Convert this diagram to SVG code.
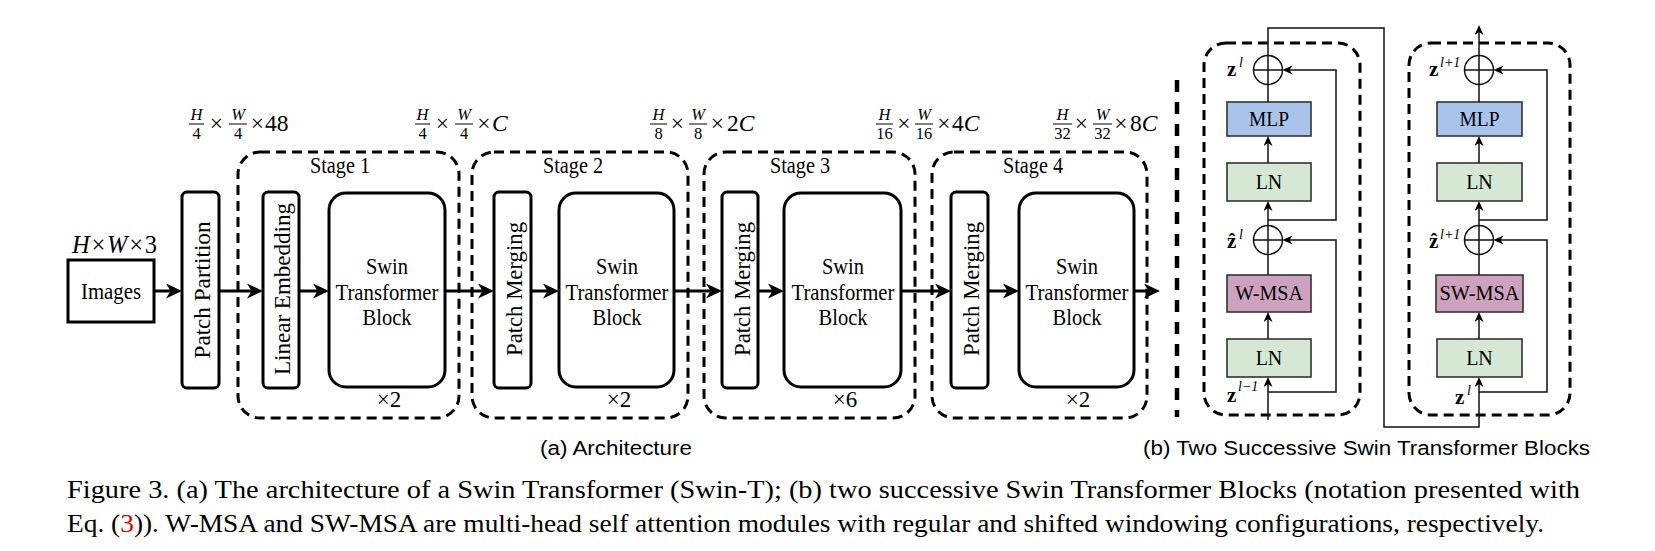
<svg xmlns="http://www.w3.org/2000/svg" width="1655" height="551" viewBox="0 0 1655 551">
<defs>
<style>
.t{font-family:"Liberation Serif","Times New Roman",Times,serif;fill:#000}
.s{font-family:"Liberation Sans",Arial,sans-serif;fill:#000}
.i{font-style:italic}
.box{fill:#fff;stroke:#000;stroke-width:3}
.stage{fill:none;stroke:#000;stroke-width:3;stroke-dasharray:10 6}
.flow{fill:none;stroke:#000;stroke-width:3}
.thin{fill:none;stroke:#111;stroke-width:1.5}
.sbox{stroke:#333;stroke-width:1.6}
.mlp{fill:#A9C4EB}
.lnf{fill:#D5E8D4}
.msa{fill:#CDA2BE}
.bar{stroke:#000;stroke-width:1}
.num{font-size:16.5px;text-anchor:middle}
.mn{font-size:23.5px}
.mid{text-anchor:middle}
.lbl{font-size:23px;text-anchor:middle}
.vt{font-size:23.5px;text-anchor:middle}
.bl{font-size:20px;text-anchor:middle}
.zb{font-size:21px;font-weight:bold}
.sup{font-size:14px;font-style:italic}
</style>
<marker id="big" markerUnits="userSpaceOnUse" markerWidth="18" markerHeight="16" refX="8" refY="7.5" orient="auto"><path d="M0,0 L16,7.5 L0,15 L4.5,7.5 z" fill="#000"/></marker>
<marker id="sm" markerUnits="userSpaceOnUse" markerWidth="12" markerHeight="11" refX="5" refY="4.5" orient="auto"><path d="M0,0 L10,4.5 L0,9 L3,4.5 z" fill="#000"/></marker>
</defs>
<rect width="1655" height="551" fill="#fff"/>

<!-- stage containers -->
<g id="stage1"><rect class="stage" x="238" y="152" width="221" height="266" rx="22"/><text class="t lbl" x="340" y="173" textLength="60" lengthAdjust="spacingAndGlyphs">Stage 1</text><text class="t lbl" x="389" y="407">×2</text></g>
<g id="stage2"><rect class="stage" x="472" y="152" width="216" height="266" rx="22"/><text class="t lbl" x="573" y="173" textLength="60" lengthAdjust="spacingAndGlyphs">Stage 2</text><text class="t lbl" x="619" y="407">×2</text></g>
<g id="stage3"><rect class="stage" x="704" y="152" width="211" height="266" rx="22"/><text class="t lbl" x="800" y="173" textLength="60" lengthAdjust="spacingAndGlyphs">Stage 3</text><text class="t lbl" x="845" y="407">×6</text></g>
<g id="stage4"><rect class="stage" x="932" y="152" width="215" height="266" rx="22"/><text class="t lbl" x="1033" y="173" textLength="60" lengthAdjust="spacingAndGlyphs">Stage 4</text><text class="t lbl" x="1078" y="407">×2</text></g>

<!-- dimension labels -->
<g id="dim0"><text class="t" x="72" y="253" font-size="24.5" textLength="85" lengthAdjust="spacing"><tspan class="i">H</tspan>×<tspan class="i">W</tspan>×3</text></g>
<g id="dim1">
<text class="t num i" x="196.5" y="120">H</text><line class="bar" x1="189" y1="124" x2="204" y2="124"/><text class="t num" x="196.5" y="139">4</text>
<text class="t mn mid" x="216.5" y="131">×</text>
<text class="t num i" x="238" y="120">W</text><line class="bar" x1="229" y1="124" x2="247" y2="124"/><text class="t num" x="238" y="139">4</text>
<text class="t mn mid" x="257.5" y="131">×</text><text class="t mn" x="265" y="131">48</text>
</g>
<g id="dim2">
<text class="t num i" x="422.5" y="120">H</text><line class="bar" x1="415" y1="124" x2="430" y2="124"/><text class="t num" x="422.5" y="139">4</text>
<text class="t mn mid" x="442.5" y="131">×</text>
<text class="t num i" x="464" y="120">W</text><line class="bar" x1="455" y1="124" x2="473" y2="124"/><text class="t num" x="464" y="139">4</text>
<text class="t mn mid" x="484" y="131">×</text><text class="t mn i" x="492" y="131">C</text>
</g>
<g id="dim3">
<text class="t num i" x="658.5" y="120">H</text><line class="bar" x1="650" y1="124" x2="667" y2="124"/><text class="t num" x="658.5" y="139">8</text>
<text class="t mn mid" x="677.5" y="131">×</text>
<text class="t num i" x="698" y="120">W</text><line class="bar" x1="689" y1="124" x2="707" y2="124"/><text class="t num" x="698" y="139">8</text>
<text class="t mn mid" x="717.5" y="131">×</text><text class="t mn" x="727" y="131">2<tspan class="i">C</tspan></text>
</g>
<g id="dim4">
<text class="t num i" x="884.5" y="120">H</text><line class="bar" x1="876" y1="124" x2="893" y2="124"/><text class="t num" x="884.5" y="139">16</text>
<text class="t mn mid" x="904" y="131">×</text>
<text class="t num i" x="924" y="120">W</text><line class="bar" x1="915" y1="124" x2="933" y2="124"/><text class="t num" x="924" y="139">16</text>
<text class="t mn mid" x="944" y="131">×</text><text class="t mn" x="952" y="131">4<tspan class="i">C</tspan></text>
</g>
<g id="dim5">
<text class="t num i" x="1062.5" y="120">H</text><line class="bar" x1="1053" y1="124" x2="1072" y2="124"/><text class="t num" x="1062.5" y="139">32</text>
<text class="t mn mid" x="1081.5" y="131">×</text>
<text class="t num i" x="1102.5" y="120">W</text><line class="bar" x1="1093" y1="124" x2="1112" y2="124"/><text class="t num" x="1102.5" y="139">32</text>
<text class="t mn mid" x="1121" y="131">×</text><text class="t mn" x="1130" y="131">8<tspan class="i">C</tspan></text>
</g>

<!-- architecture nodes -->
<g id="images"><rect class="box" x="68" y="260" width="86" height="62"/><text class="t lbl" x="111" y="299" textLength="60" lengthAdjust="spacingAndGlyphs">Images</text></g>
<g id="patch-partition"><rect class="box" x="182" y="192" width="37" height="196" rx="5"/><text class="t vt" transform="translate(209.5,290) rotate(-90)" textLength="137" lengthAdjust="spacingAndGlyphs">Patch Partition</text></g>
<g id="linear-embedding"><rect class="box" x="263" y="192" width="36" height="196" rx="5"/><text class="t vt" transform="translate(290,289) rotate(-90)" textLength="172" lengthAdjust="spacingAndGlyphs">Linear Embedding</text></g>
<g id="swin1"><rect class="box" x="329" y="193" width="116" height="194" rx="17"/><text class="t lbl" x="387" y="274" textLength="42" lengthAdjust="spacingAndGlyphs">Swin</text><text class="t lbl" x="387" y="300" textLength="103" lengthAdjust="spacingAndGlyphs">Transformer</text><text class="t lbl" x="387" y="325" textLength="49" lengthAdjust="spacingAndGlyphs">Block</text></g>
<g id="merge2"><rect class="box" x="494" y="192" width="37" height="196" rx="5"/><text class="t vt" transform="translate(522,289) rotate(-90)" textLength="134" lengthAdjust="spacingAndGlyphs">Patch Merging</text></g>
<g id="swin2"><rect class="box" x="559" y="193" width="115" height="194" rx="17"/><text class="t lbl" x="617" y="274" textLength="42" lengthAdjust="spacingAndGlyphs">Swin</text><text class="t lbl" x="617" y="300" textLength="103" lengthAdjust="spacingAndGlyphs">Transformer</text><text class="t lbl" x="617" y="325" textLength="49" lengthAdjust="spacingAndGlyphs">Block</text></g>
<g id="merge3"><rect class="box" x="722" y="192" width="36" height="196" rx="5"/><text class="t vt" transform="translate(749.5,289) rotate(-90)" textLength="134" lengthAdjust="spacingAndGlyphs">Patch Merging</text></g>
<g id="swin3"><rect class="box" x="784" y="193" width="117" height="194" rx="17"/><text class="t lbl" x="843" y="274" textLength="42" lengthAdjust="spacingAndGlyphs">Swin</text><text class="t lbl" x="843" y="300" textLength="103" lengthAdjust="spacingAndGlyphs">Transformer</text><text class="t lbl" x="843" y="325" textLength="49" lengthAdjust="spacingAndGlyphs">Block</text></g>
<g id="merge4"><rect class="box" x="951" y="192" width="37" height="196" rx="5"/><text class="t vt" transform="translate(979,289) rotate(-90)" textLength="134" lengthAdjust="spacingAndGlyphs">Patch Merging</text></g>
<g id="swin4"><rect class="box" x="1019" y="193" width="115" height="194" rx="17"/><text class="t lbl" x="1077" y="274" textLength="42" lengthAdjust="spacingAndGlyphs">Swin</text><text class="t lbl" x="1077" y="300" textLength="103" lengthAdjust="spacingAndGlyphs">Transformer</text><text class="t lbl" x="1077" y="325" textLength="49" lengthAdjust="spacingAndGlyphs">Block</text></g>

<!-- separator -->
<g id="separator"><line x1="1177" y1="80" x2="1177" y2="417" stroke="#000" stroke-width="4.5" stroke-dasharray="12 10"/></g>

<!-- right panel: block containers -->
<g id="block1"><rect class="stage" x="1204" y="43" width="156" height="372" rx="22"/></g>
<g id="block2"><rect class="stage" x="1409" y="43" width="161" height="372" rx="22"/></g>

<g id="b1-mlp"><rect class="sbox mlp" x="1227" y="102" width="84" height="34"/><text class="t bl" x="1269" y="126" textLength="40" lengthAdjust="spacingAndGlyphs">MLP</text></g>
<g id="b1-ln2"><rect class="sbox lnf" x="1227" y="163" width="84" height="38"/><text class="t bl" x="1269" y="189">LN</text></g>
<g id="b1-wmsa"><rect class="sbox msa" x="1227" y="275" width="84" height="37"/><text class="t bl" x="1269" y="300" textLength="68" lengthAdjust="spacingAndGlyphs">W-MSA</text></g>
<g id="b1-ln1"><rect class="sbox lnf" x="1227" y="339" width="84" height="38"/><text class="t bl" x="1269" y="365">LN</text></g>
<g id="b1-add2"><circle class="thin" cx="1268" cy="70" r="14.5"/><path class="thin" d="M1253.5,70 H1282.5 M1268,55.5 V84.5"/><text class="t zb" x="1227" y="76">z</text><text class="t sup" x="1239" y="67">l</text></g>
<g id="b1-add1"><circle class="thin" cx="1268" cy="240" r="14.5"/><path class="thin" d="M1253.5,240 H1282.5 M1268,225.5 V254.5"/><text class="t zb" x="1227" y="248">ẑ</text><text class="t sup" x="1239" y="239">l</text></g>
<g id="b1-in"><text class="t zb" x="1227" y="402">z</text><text class="t sup" x="1238" y="391">l−1</text></g>

<g id="b2-mlp"><rect class="sbox mlp" x="1437" y="102" width="85" height="34"/><text class="t bl" x="1479.5" y="126" textLength="40" lengthAdjust="spacingAndGlyphs">MLP</text></g>
<g id="b2-ln2"><rect class="sbox lnf" x="1437" y="163" width="85" height="38"/><text class="t bl" x="1479.5" y="189">LN</text></g>
<g id="b2-swmsa"><rect class="sbox msa" x="1436" y="275" width="87" height="37"/><text class="t bl" x="1479.5" y="300" textLength="80" lengthAdjust="spacingAndGlyphs">SW-MSA</text></g>
<g id="b2-ln1"><rect class="sbox lnf" x="1437" y="339" width="85" height="38"/><text class="t bl" x="1479.5" y="365">LN</text></g>
<g id="b2-add2"><circle class="thin" cx="1479" cy="70" r="14.5"/><path class="thin" d="M1464.5,70 H1493.5 M1479,55.5 V84.5"/><text class="t zb" x="1429" y="76">z</text><text class="t sup" x="1440" y="67">l+1</text></g>
<g id="b2-add1"><circle class="thin" cx="1479" cy="240" r="14.5"/><path class="thin" d="M1464.5,240 H1493.5 M1479,225.5 V254.5"/><text class="t zb" x="1429" y="248">ẑ</text><text class="t sup" x="1440" y="239">l+1</text></g>
<g id="b2-in"><text class="t zb" x="1455" y="404">z</text><text class="t sup" x="1467" y="395">l</text></g>

<!-- connectors -->
<g id="connectors">
<line class="flow" x1="154" y1="291" x2="174" y2="291" marker-end="url(#big)"/>
<line class="flow" x1="219" y1="291" x2="255" y2="291" marker-end="url(#big)"/>
<line class="flow" x1="299" y1="291" x2="321" y2="291" marker-end="url(#big)"/>
<line class="flow" x1="445" y1="291" x2="486" y2="291" marker-end="url(#big)"/>
<line class="flow" x1="531" y1="291" x2="551" y2="291" marker-end="url(#big)"/>
<line class="flow" x1="674" y1="291" x2="714" y2="291" marker-end="url(#big)"/>
<line class="flow" x1="758" y1="291" x2="776" y2="291" marker-end="url(#big)"/>
<line class="flow" x1="901" y1="291" x2="943" y2="291" marker-end="url(#big)"/>
<line class="flow" x1="988" y1="291" x2="1011" y2="291" marker-end="url(#big)"/>
<line class="flow" x1="1134" y1="291" x2="1152" y2="291" marker-end="url(#big)"/>

<path class="thin" d="M1268,420 V382" marker-end="url(#sm)"/>
<path class="thin" d="M1268,339 V317" stroke-width="2.2" marker-end="url(#sm)"/>
<path class="thin" d="M1268,275 V254.5"/>
<path class="thin" d="M1268,225.5 V206" marker-end="url(#sm)"/>
<path class="thin" d="M1268,163 V141" marker-end="url(#sm)"/>
<path class="thin" d="M1268,102 V84.5"/>
<path class="thin" d="M1268,55.5 V28 H1384 V427 H1479 V382" marker-end="url(#sm)"/>
<path class="thin" d="M1268,392 H1336 V240 H1287.5" marker-end="url(#sm)"/>
<path class="thin" d="M1268,220 H1336 V70 H1287.5" marker-end="url(#sm)"/>

<path class="thin" d="M1479,339 V317" stroke-width="2.2" marker-end="url(#sm)"/>
<path class="thin" d="M1479,275 V254.5"/>
<path class="thin" d="M1479,225.5 V206" marker-end="url(#sm)"/>
<path class="thin" d="M1479,163 V141" marker-end="url(#sm)"/>
<path class="thin" d="M1479,102 V84.5"/>
<path class="thin" d="M1479,55.5 V30" marker-end="url(#sm)"/>
<path class="thin" d="M1479,392 H1547 V240 H1498.5" marker-end="url(#sm)"/>
<path class="thin" d="M1479,220 H1547 V70 H1498.5" marker-end="url(#sm)"/>
</g>

<!-- captions -->
<g id="captions">
<text class="s" x="540" y="455" font-size="20" textLength="152" lengthAdjust="spacingAndGlyphs">(a) Architecture</text>
<text class="s" x="1143" y="455" font-size="20" textLength="447" lengthAdjust="spacingAndGlyphs">(b) Two Successive Swin Transformer Blocks</text>
<text class="t" x="67" y="498" font-size="25.5" textLength="1513" lengthAdjust="spacingAndGlyphs">Figure 3. (a) The architecture of a Swin Transformer (Swin-T); (b) two successive Swin Transformer Blocks (notation presented with</text>
<text class="t" x="67" y="532" font-size="25.5" textLength="1477" lengthAdjust="spacingAndGlyphs">Eq. (<tspan fill="#e00000">3</tspan>)). W-MSA and SW-MSA are multi-head self attention modules with regular and shifted windowing configurations, respectively.</text>
</g>
</svg>
